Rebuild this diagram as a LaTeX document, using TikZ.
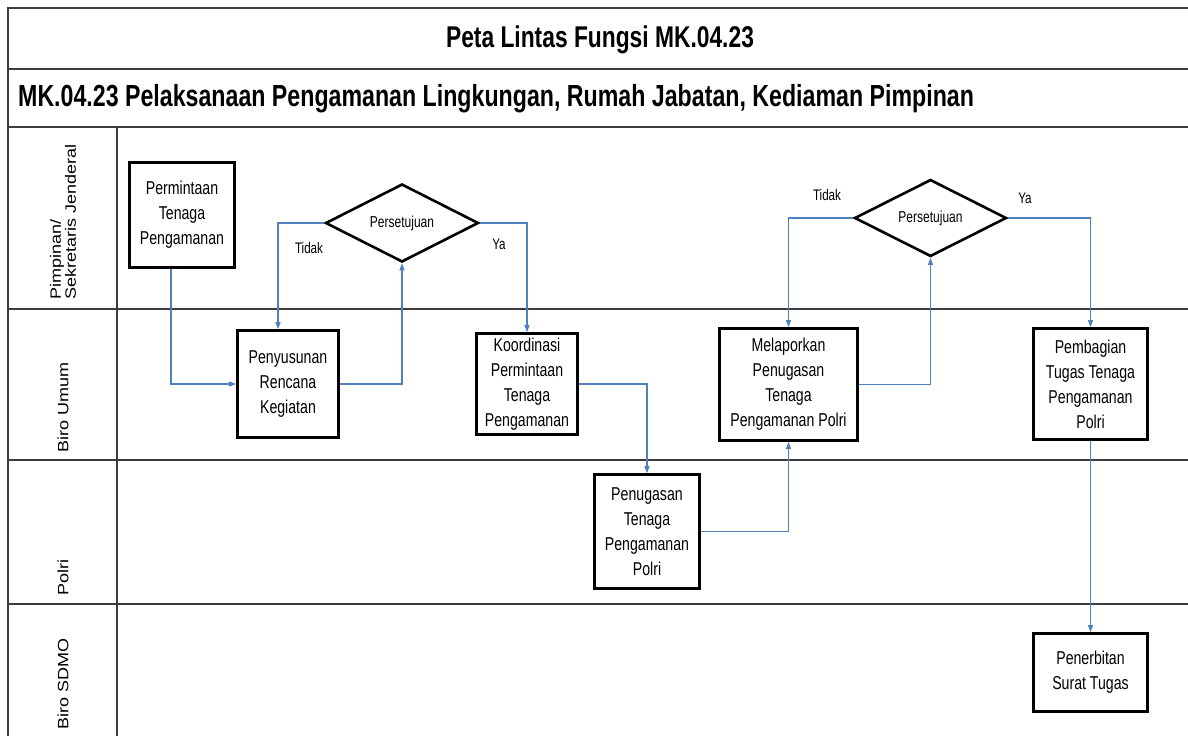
\documentclass[tikz,border=0pt]{standalone}
\usepackage{fontspec}
\setmainfont{Liberation Sans}
\newfontfamily\nar[FakeStretch=0.76]{Liberation Sans}
\newfontfamily\lanef[FakeStretch=1.2]{Liberation Sans}
\usetikzlibrary{shapes.geometric,arrows.meta}
\definecolor{flow}{RGB}{79,129,189}
\definecolor{frameline}{RGB}{60,60,60}
\tikzset{
  frm/.style={draw=frameline,line width=1.8pt},
  proc/.style={draw=black,line width=2.6pt,rectangle,inner sep=1pt,align=center,
    font=\nar\fontsize{18.6}{25}\selectfont},
  dec/.style={draw=black,line width=2.6pt,diamond,inner sep=0pt,aspect=1.93,
    font=\nar\fontsize{15.8}{17}\selectfont},
  flowline/.style={draw=flow,line width=1.1pt,-{Triangle[length=7pt,width=5pt]}},
  lbl/.style={font=\nar\fontsize{15.3}{16}\selectfont,inner sep=0pt},
  lane/.style={rotate=90,anchor=west,align=left,inner sep=0pt,
    font=\lanef\fontsize{15}{12}\selectfont},
}
\begin{document}
\begin{tikzpicture}[x=1pt,y=-1pt]
\useasboundingbox (0,0) rectangle (1188,736);
% frame
\draw[frm] (1188,8) -- (8,8) -- (8,736);
\draw[frm] (8,69) -- (1188,69);
\draw[frm] (8,127) -- (1188,127);
\draw[frm] (117,127) -- (117,736);
\draw[frm] (8,309) -- (1188,309);
\draw[frm] (8,460) -- (1188,460);
\draw[frm] (8,604) -- (1188,604);
% titles
\node[font=\nar\bfseries\fontsize{30}{34}\selectfont,inner sep=0pt] (title) at (600,40) {Peta Lintas Fungsi MK.04.23};
\node[font=\nar\bfseries\fontsize{30.5}{36}\selectfont,inner sep=0pt,anchor=west] (subtitle) at (18,99) {MK.04.23 Pelaksanaan Pengamanan Lingkungan, Rumah Jabatan, Kediaman Pimpinan};
% lanes
\node[lane] (l1) at (63,300) {Pimpinan/\\Sekretaris Jenderal};
\node[lane] (l2) at (63,453) {Biro Umum};
\node[lane] (l3) at (63,596) {Polri};
\node[lane] (l4) at (63,730) {Biro SDMO};
% process nodes
\node[proc,minimum width=105pt,minimum height=105pt] (perm) at (182,215) {Permintaan\\Tenaga\\Pengamanan};
\node[dec,minimum width=153pt,minimum height=78pt] (d1) at (402,223) {Persetujuan};
\node[proc,minimum width=101pt,minimum height=107pt] (peny) at (288,384) {Penyusunan\\Rencana\\Kegiatan};
\node[proc,minimum width=101pt,minimum height=101pt] (koord) at (527,384) {Koordinasi\\Permintaan\\Tenaga\\Pengamanan};
\node[proc,minimum width=105pt,minimum height=114pt] (penug) at (647,531.5) {Penugasan\\Tenaga\\Pengamanan\\Polri};
\node[proc,minimum width=138pt,minimum height=112pt] (mela) at (788.5,384.5) {Melaporkan\\Penugasan\\Tenaga\\Pengamanan Polri};
\node[dec,minimum width=152pt,minimum height=77pt] (d2) at (930.5,218) {Persetujuan};
\node[proc,minimum width=114pt,minimum height=111pt] (pemb) at (1090.5,384) {Pembagian\\Tugas Tenaga\\Pengamanan\\Polri};
\node[proc,minimum width=114pt,minimum height=78pt] (pener) at (1090.5,672.5) {Penerbitan\\Surat Tugas};
% connectors
\draw[flowline] ([xshift=-11pt]perm.south) |- (peny.west);
\draw[flowline] (peny.east) -| (d1.south);
\draw[flowline] (d1.west) -| ([xshift=-10pt]peny.north);
\draw[flowline] (d1.east) -| (koord.north);
\draw[flowline] (koord.east) -| (penug.north);
\draw[flowline] (penug.east) -| (mela.south);
\draw[flowline] (mela.east) -| (d2.south);
\draw[flowline] (d2.west) -| (mela.north);
\draw[flowline] (d2.east) -| (pemb.north);
\draw[flowline] (pemb.south) -- (pener.north);
% labels
\node[lbl] (t1) at (309,248) {Tidak};
\node[lbl] (y1) at (499,244) {Ya};
\node[lbl] (t2) at (827,195) {Tidak};
\node[lbl] (y2) at (1025,198) {Ya};
\end{tikzpicture}
\end{document}
